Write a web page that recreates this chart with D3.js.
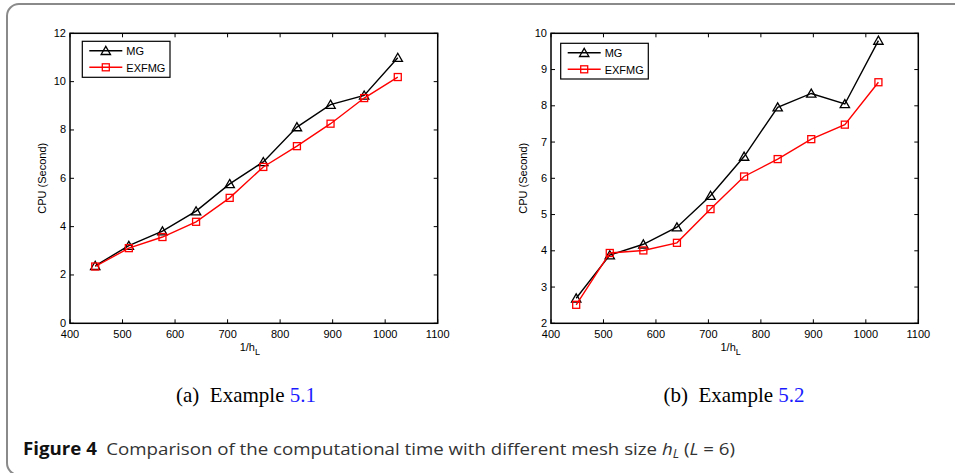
<!DOCTYPE html>
<html>
<head>
<meta charset="utf-8">
<script src="https://cdn.jsdelivr.net/npm/d3@7"></script>
<style>
  body { margin: 0; background: #fff; }
  svg { display: block; }
  .tick-label { font-family: "Liberation Sans", Arial, sans-serif; font-size: 11px; fill: #000; }
</style>
</head>
<body>
<script>
// x values (1/h_L)
let meshSizes = [448, 512, 576, 640, 704, 768, 832, 896, 960, 1024];

// example 5.1
let mgA    = [2.38, 3.21, 3.81, 4.64, 5.77, 6.68, 8.12, 9.05, 9.43, 10.99];
let exfmgA = [2.35, 3.11, 3.57, 4.20, 5.19, 6.47, 7.33, 8.26, 9.32, 10.19];

// example 5.2
let mgB    = [2.69, 3.88, 4.18, 4.65, 5.52, 6.60, 7.96, 8.34, 8.05, 9.80];
let exfmgB = [2.51, 3.94, 4.01, 4.22, 5.15, 6.05, 6.53, 7.08, 7.48, 8.65];

let xTicks = [400, 500, 600, 700, 800, 900, 1000, 1100];
let yTicksA = [0, 2, 4, 6, 8, 10, 12];
let yTicksB = [2, 3, 4, 5, 6, 7, 8, 9, 10];
let seriesNames = ["MG", "EXFMG"];

let width = 955, height = 473;

let svg = d3.select("body").append("svg")
    .attr("width", width).attr("height", height);

// outer frame (right and bottom edges run off the page)
svg.append("rect")
    .attr("x", 7).attr("y", 4)
    .attr("width", 1000).attr("height", 471)
    .attr("rx", 12)
    .attr("fill", "none")
    .attr("stroke", "#8a8a8a")
    .attr("stroke-width", 2);

// draws one panel
function drawPanel(p) {
    let x = d3.scaleLinear().domain([400, 1100]).range([p.left, p.right]);
    let y = d3.scaleLinear().domain(p.yDomain).range([p.bottom, p.top]);

    let g = svg.append("g");

    // ticks inside on all four sides
    let tl = 4;
    g.selectAll(".xt").data(xTicks).enter().append("path")
        .attr("d", d => "M" + x(d) + "," + p.bottom + "v" + (-tl) + "M" + x(d) + "," + p.top + "v" + tl)
        .attr("stroke", "#000").attr("stroke-width", 1);
    g.selectAll(".yt").data(p.yTicks).enter().append("path")
        .attr("d", d => "M" + p.left + "," + y(d) + "h" + tl + "M" + p.right + "," + y(d) + "h" + (-tl))
        .attr("stroke", "#000").attr("stroke-width", 1);

    // box
    g.append("rect")
        .attr("x", p.left).attr("y", p.top)
        .attr("width", p.right - p.left).attr("height", p.bottom - p.top)
        .attr("fill", "none").attr("stroke", "#000").attr("stroke-width", 1.5);

    // tick labels
    g.selectAll(".xl").data(xTicks).enter().append("text")
        .attr("class", "tick-label")
        .attr("x", d => x(d)).attr("y", p.bottom + 15)
        .attr("text-anchor", "middle")
        .text(d => d);
    g.selectAll(".yl").data(p.yTicks).enter().append("text")
        .attr("class", "tick-label")
        .attr("x", p.left - 4).attr("y", d => y(d) + 3.5)
        .attr("text-anchor", "end")
        .text(d => d);

    // axis titles
    let xt = g.append("text").attr("class", "tick-label")
        .attr("x", (p.left + p.right) / 2 - 4).attr("y", p.bottom + 28)
        .attr("text-anchor", "middle");
    xt.append("tspan").text("1/h");
    xt.append("tspan").attr("dy", 4).attr("font-size", 9).text("L");

    g.append("text").attr("class", "tick-label")
        .attr("transform", "translate(" + (p.left - 24) + "," + ((p.top + p.bottom) / 2) + ") rotate(-90)")
        .attr("text-anchor", "middle")
        .attr("font-size", 10.5)
        .text("CPU (Second)");

    let line = d3.line().x((d, i) => x(meshSizes[i])).y(d => y(d));
    let tri = d3.symbol().type(d3.symbolTriangle).size(38);

    // MG (black, triangles)
    g.append("path").attr("d", line(p.mg))
        .attr("fill", "none").attr("stroke", "#000").attr("stroke-width", 1.4);
    g.selectAll(".mg").data(p.mg).enter().append("path")
        .attr("d", tri)
        .attr("transform", (d, i) => "translate(" + x(meshSizes[i]) + "," + (y(d) + 1) + ")")
        .attr("fill", "none").attr("stroke", "#000").attr("stroke-width", 1.3);

    // EXFMG (red, squares)
    g.append("path").attr("d", line(p.ex))
        .attr("fill", "none").attr("stroke", "#ff0000").attr("stroke-width", 1.4);
    g.selectAll(".ex").data(p.ex).enter().append("rect")
        .attr("x", (d, i) => x(meshSizes[i]) - 3.5)
        .attr("y", d => y(d) - 3.5)
        .attr("width", 7).attr("height", 7)
        .attr("fill", "none").attr("stroke", "#ff0000").attr("stroke-width", 1.3);

    // legend
    let lg = p.legend;
    g.append("rect")
        .attr("x", lg.x).attr("y", lg.y).attr("width", lg.w).attr("height", lg.h)
        .attr("fill", "#fff").attr("stroke", "#000").attr("stroke-width", 1.2);
    let colors = ["#000", "#ff0000"];
    seriesNames.forEach((name, i) => {
        let ly = lg.y + 9.5 + i * 16.5;
        g.append("line")
            .attr("x1", lg.x + 7).attr("x2", lg.x + 40)
            .attr("y1", ly).attr("y2", ly)
            .attr("stroke", colors[i]).attr("stroke-width", 1.4);
        if (i === 0) {
            g.append("path").attr("d", tri)
                .attr("transform", "translate(" + (lg.x + 23.5) + "," + (ly + 1) + ")")
                .attr("fill", "none").attr("stroke", "#000").attr("stroke-width", 1.3);
        } else {
            g.append("rect")
                .attr("x", lg.x + 20).attr("y", ly - 3.5).attr("width", 7).attr("height", 7)
                .attr("fill", "none").attr("stroke", "#ff0000").attr("stroke-width", 1.3);
        }
        g.append("text").attr("class", "tick-label")
            .attr("x", lg.x + 44).attr("y", ly + 4.5)
            .attr("font-size", 12)
            .text(name);
    });

    // sub caption
    let cap = svg.append("text")
        .attr("x", p.capX).attr("y", 402)
        .attr("text-anchor", "middle")
        .attr("font-family", "'Liberation Serif', 'Times New Roman', serif")
        .attr("font-size", 21)
        .attr("fill", "#000");
    cap.append("tspan").text(p.capLabel + "\u2002Example ");
    cap.append("tspan").attr("fill", "#1a1aff").text(p.capRef);
}

drawPanel({
    left: 70, right: 437.7, top: 33.3, bottom: 323.3,
    yDomain: [0, 12], yTicks: yTicksA,
    mg: mgA, ex: exfmgA,
    legend: { x: 82.3, y: 41.3, w: 87.7, h: 36 },
    capX: 246, capLabel: "(a)", capRef: "5.1"
});

drawPanel({
    left: 551, right: 918.3, top: 33.3, bottom: 323.3,
    yDomain: [2, 10], yTicks: yTicksB,
    mg: mgB, ex: exfmgB,
    legend: { x: 560.7, y: 43.3, w: 87.6, h: 35.7 },
    capX: 734, capLabel: "(b)", capRef: "5.2"
});

// figure caption
let fig = svg.append("text")
    .attr("x", 23).attr("y", 455)
    .attr("font-family", "'Open Sans', 'Noto Sans', sans-serif")
    .attr("font-size", 17)
    .attr("fill", "#333")
    .attr("textLength", 712)
    .attr("lengthAdjust", "spacingAndGlyphs");
fig.append("tspan").attr("font-weight", "bold").attr("fill", "#111").text("Figure 4");
fig.append("tspan").text("\u2002Comparison of the computational time with different mesh size ");
fig.append("tspan").attr("font-style", "italic").text("h");
fig.append("tspan").attr("font-style", "italic").attr("font-size", 12).attr("dy", 3).text("L");
fig.append("tspan").attr("dy", -3).text(" (");
fig.append("tspan").attr("font-style", "italic").text("L");
fig.append("tspan").text(" = 6)");
</script>
</body>
</html>
